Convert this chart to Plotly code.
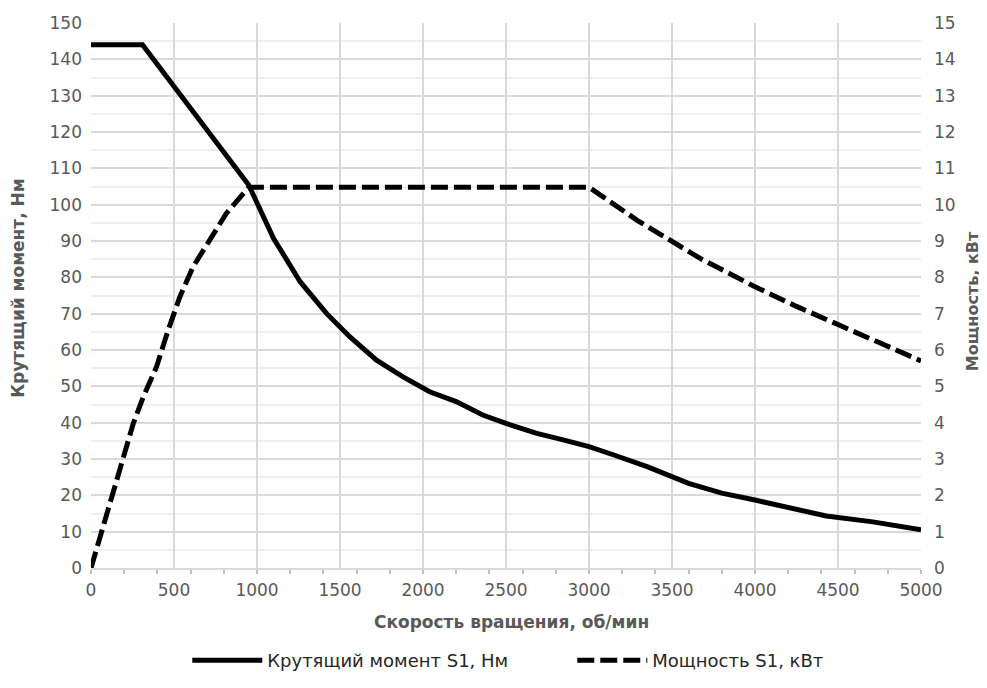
import plotly.graph_objects as go

# Torque S1 (Nm) vs speed (rpm)
torque_rpm = [0, 310, 950, 1100, 1260, 1420, 1560, 1720, 1880, 2040, 2200, 2360, 2500,
              2680, 2850, 3000, 3150, 3350, 3600, 3800, 4000, 4210, 4430, 4710, 5000]
torque_nm = [144, 144, 105.4, 90.7, 78.8, 70.0, 63.6, 57.2, 52.6, 48.5, 45.8, 42.1, 39.8,
             37.1, 35.2, 33.4, 31.1, 27.9, 23.3, 20.6, 18.7, 16.4, 14.3, 12.7, 10.5]

# Power S1 (kW) vs speed (rpm)
power_rpm = [0, 55, 135, 195, 255, 315, 395, 465, 535, 615, 715, 815, 950,
             3000, 3290, 3500, 3670, 4000, 4250, 4500, 4750, 5000]
power_kw = [0, 0.86, 2.15, 3.1, 3.98, 4.71, 5.54, 6.55, 7.46, 8.29, 9.02, 9.76, 10.48,
            10.48, 9.57, 8.98, 8.52, 7.74, 7.2, 6.7, 6.2, 5.7]

x_ticks = [0, 500, 1000, 1500, 2000, 2500, 3000, 3500, 4000, 4500, 5000]

x_title = "Скорость вращения, об/мин"
y_title = "Крутящий момент, Нм"
y2_title = "Мощность, кВт"

FONT = "DejaVu Sans"
TICK_C = "#595959"
GRID_C = "#d9d9d9"
MINOR_C = "#efefef"
TICK_SIZE = 17
TITLE_SIZE = 17

fig = go.Figure()
fig.add_trace(go.Scatter(x=torque_rpm, y=torque_nm, mode="lines",
                         name="Крутящий момент S1, Нм",
                         line=dict(color="#000000", width=5)))
fig.add_trace(go.Scatter(x=power_rpm, y=power_kw, mode="lines", yaxis="y2",
                         name="Мощность S1, кВт",
                         line=dict(color="#000000", width=5, dash="17px,6px")))

# hide the gridline at x = 0 (the reference has no left frame line)
fig.add_shape(type="line", xref="x", yref="paper", x0=0, x1=0, y0=0.004, y1=1,
              line=dict(color="white", width=3), layer="below")

title_font = dict(family=FONT, size=TITLE_SIZE, color=TICK_C)
fig.add_annotation(text=f"<b>{x_title}</b>", xref="paper", yref="paper", x=0.507, y=-0.099,
                   xanchor="center", yanchor="middle", showarrow=False, font=title_font)
fig.add_annotation(text=f"<b>{y_title}</b>", xref="paper", yref="paper", x=-0.088, y=0.514,
                   xanchor="center", yanchor="middle", showarrow=False, textangle=-90,
                   font=title_font)
fig.add_annotation(text=f"<b>{y2_title}</b>", xref="paper", yref="paper", x=1.063, y=0.49,
                   xanchor="center", yanchor="middle", showarrow=False, textangle=-90,
                   font=dict(family=FONT, size=16, color=TICK_C))

fig.update_layout(
    width=979, height=680,
    margin=dict(l=83, r=66, t=15, b=120, autoexpand=False),
    paper_bgcolor="white", plot_bgcolor="white",
    font=dict(family=FONT, color=TICK_C, size=16),
    xaxis=dict(range=[0, 5000], tickvals=x_ticks, showgrid=True, gridcolor=GRID_C,
               gridwidth=2, zeroline=False, showline=True, linecolor=GRID_C, linewidth=2,
               ticks="", tickfont=dict(size=TICK_SIZE, color=TICK_C), ticklabelstandoff=6,
               automargin=False,
               minor=dict(dtick=200, ticks="outside", ticklen=4, tickcolor="#bfbfbf",
                          tickwidth=1.5, showgrid=False)),
    yaxis=dict(range=[0, 150], dtick=10, showgrid=True, gridcolor=GRID_C, gridwidth=2,
               zeroline=False, ticks="", tickfont=dict(size=TICK_SIZE, color=TICK_C),
               ticklabelstandoff=8, automargin=False,
               minor=dict(dtick=5, showgrid=True, gridcolor=MINOR_C, gridwidth=1.5)),
    yaxis2=dict(range=[0, 15], dtick=1, overlaying="y", side="right", showgrid=False,
                zeroline=False, ticks="", tickfont=dict(size=TICK_SIZE, color=TICK_C),
                ticklabelstandoff=12, automargin=False),
    legend=dict(orientation="h", x=0.116, xanchor="left", y=-0.17, yanchor="middle",
                font=dict(size=18, color="#262626"), itemwidth=70, entrywidth=300,
                traceorder="normal"),
)

fig.write_html("out.html")
